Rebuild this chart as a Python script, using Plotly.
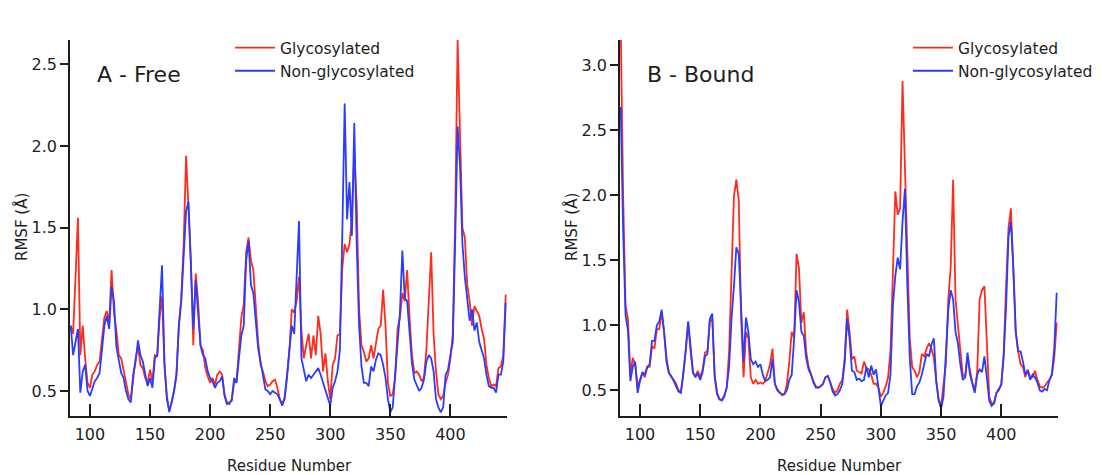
import plotly.graph_objects as go

# ---------------- data ----------------
residues = list(range(84, 447, 2))

free_glyco = [
    0.90, 0.85, 1.20, 1.56, 0.72, 0.90, 0.70, 0.55, 0.52, 0.60,
    0.62, 0.66, 0.68, 0.82, 0.95, 0.99, 0.92, 1.24, 0.98, 0.87,
    0.72, 0.70, 0.62, 0.55, 0.48, 0.45, 0.58, 0.70, 0.77, 0.66,
    0.64, 0.58, 0.55, 0.63, 0.56, 0.72, 0.71, 0.95, 1.08, 0.66,
    0.45, 0.38, 0.43, 0.50, 0.60, 0.90, 1.07, 1.40, 1.94, 1.66,
    1.30, 0.78, 1.22, 1.05, 0.78, 0.75, 0.64, 0.59, 0.55, 0.58,
    0.54, 0.60, 0.62, 0.60, 0.48, 0.43, 0.42, 0.45, 0.55, 0.56,
    0.75, 0.95, 1.03, 1.35, 1.44, 1.30, 1.24, 1.00, 0.80, 0.66,
    0.62, 0.56, 0.53, 0.54, 0.56, 0.57, 0.52, 0.45, 0.42, 0.45,
    0.58, 0.75, 1.00, 0.98, 1.05, 1.20, 0.87, 0.70, 0.78, 0.85,
    0.70, 0.84, 0.72, 0.96, 0.85, 0.62, 0.73, 0.56, 0.45, 0.66,
    0.70, 0.84, 0.85, 1.25, 1.40, 1.35, 1.40, 1.55, 1.95, 1.65,
    1.00, 0.78, 0.74, 0.68, 0.70, 0.78, 0.70, 0.78, 0.88, 0.90,
    1.12, 0.90, 0.55, 0.47, 0.48, 0.58, 0.88, 0.95, 1.10, 1.05,
    1.24, 0.95, 0.72, 0.61, 0.62, 0.60, 0.56, 0.58, 0.75, 1.05,
    1.35, 0.85, 0.62, 0.48, 0.45, 0.47, 0.55, 0.60, 0.70, 0.85,
    1.57, 2.65, 2.00, 1.50, 1.44, 1.15, 1.05, 0.90, 1.02, 0.99,
    0.96, 0.88, 0.82, 0.66, 0.58, 0.53, 0.54, 0.53, 0.64, 0.65,
    0.72, 1.09,
]

free_nonglyco = [
    0.90, 0.72, 0.80, 0.88, 0.49, 0.62, 0.66, 0.50, 0.47, 0.52,
    0.56, 0.58, 0.61, 0.75, 0.90, 0.96, 0.88, 1.14, 1.05, 0.77,
    0.68, 0.61, 0.58, 0.50, 0.45, 0.43, 0.60, 0.68, 0.81, 0.72,
    0.68, 0.60, 0.53, 0.58, 0.52, 0.70, 0.72, 1.00, 1.27, 0.67,
    0.47, 0.37, 0.43, 0.50, 0.60, 0.90, 1.05, 1.35, 1.60, 1.66,
    1.30, 0.88, 1.18, 1.00, 0.78, 0.72, 0.70, 0.62, 0.58, 0.56,
    0.52, 0.55, 0.56, 0.59, 0.47, 0.42, 0.43, 0.44, 0.58, 0.55,
    0.70, 0.84, 0.90, 1.30, 1.42, 1.15, 1.10, 0.92, 0.76, 0.68,
    0.58, 0.51, 0.50, 0.48, 0.50, 0.49, 0.48, 0.45, 0.41, 0.46,
    0.58, 0.75, 0.90, 0.85, 1.20, 1.54, 0.70, 0.62, 0.56, 0.60,
    0.58, 0.60, 0.62, 0.64, 0.60, 0.55, 0.50, 0.45, 0.41, 0.52,
    0.56, 0.62, 0.75, 1.45, 2.26, 1.55, 1.78, 1.45, 2.14, 1.40,
    0.90, 0.65, 0.55, 0.55, 0.53, 0.65, 0.62, 0.69, 0.73, 0.72,
    0.66, 0.58, 0.45, 0.37, 0.40, 0.60, 0.80, 0.98, 1.36, 1.07,
    1.05, 0.85, 0.67, 0.57, 0.53, 0.50, 0.52, 0.57, 0.68, 0.72,
    0.70, 0.62, 0.45, 0.40, 0.37, 0.40, 0.60, 0.63, 0.72, 0.80,
    1.43, 2.12, 1.88, 1.40, 1.20, 1.08, 0.93, 1.00, 0.87, 0.92,
    0.80, 0.75, 0.70, 0.60, 0.53, 0.52, 0.52, 0.49, 0.60, 0.60,
    0.68, 1.04,
]

bound_glyco = [
    3.30, 2.00, 1.15, 1.05, 0.62, 0.75, 0.70, 0.53, 0.58, 0.63,
    0.60, 0.68, 0.68, 0.84, 0.82, 0.97, 0.97, 1.10, 0.95, 0.75,
    0.64, 0.60, 0.58, 0.55, 0.50, 0.49, 0.62, 0.80, 1.02, 0.80,
    0.63, 0.61, 0.65, 0.60, 0.66, 0.79, 0.80, 1.03, 1.05, 0.62,
    0.48, 0.43, 0.43, 0.46, 0.52, 0.80, 1.50, 1.99, 2.12, 1.96,
    1.05, 0.60, 0.95, 0.90, 0.60, 0.55, 0.58, 0.55, 0.56, 0.55,
    0.57, 0.63, 0.70, 0.82, 0.55, 0.51, 0.48, 0.46, 0.47, 0.55,
    0.72, 0.95, 0.90, 1.55, 1.44, 1.02, 1.10, 0.80, 0.68, 0.62,
    0.57, 0.53, 0.52, 0.53, 0.55, 0.60, 0.61, 0.56, 0.51, 0.48,
    0.50, 0.55, 0.58, 0.75, 1.12, 0.95, 0.74, 0.76, 0.65, 0.64,
    0.63, 0.72, 0.67, 0.66, 0.62, 0.55, 0.55, 0.52, 0.45, 0.48,
    0.53, 0.60, 0.80, 1.40, 2.03, 1.85, 1.90, 2.88, 2.25, 1.60,
    0.90, 0.68, 0.65, 0.60, 0.64, 0.78, 0.76, 0.82, 0.86, 0.82,
    0.75, 0.57, 0.43, 0.38, 0.54, 0.70, 1.20, 1.45, 2.12, 1.20,
    1.00, 0.80, 0.62, 0.60, 0.76, 0.65, 0.56, 0.50, 0.64, 1.20,
    1.27, 1.30, 0.80, 0.45, 0.40, 0.40, 0.48, 0.50, 0.55, 0.78,
    1.30, 1.75, 1.90, 1.45, 0.95, 0.80, 0.70, 0.68, 0.60, 0.66,
    0.60, 0.60, 0.65, 0.58, 0.53, 0.52, 0.53, 0.56, 0.58, 0.62,
    0.75, 1.02,
]

bound_nonglyco = [
    2.68, 1.73, 1.08, 0.96, 0.57, 0.68, 0.72, 0.48, 0.57, 0.64,
    0.62, 0.68, 0.70, 0.88, 0.88, 1.00, 1.03, 1.12, 0.95, 0.72,
    0.63, 0.61, 0.57, 0.53, 0.49, 0.48, 0.63, 0.80, 1.03, 0.82,
    0.64, 0.60, 0.63, 0.58, 0.64, 0.76, 0.78, 1.05, 1.09, 0.60,
    0.47, 0.43, 0.42, 0.45, 0.52, 0.68, 1.05, 1.30, 1.60, 1.55,
    1.15, 0.72, 1.06, 0.95, 0.74, 0.70, 0.72, 0.68, 0.70, 0.62,
    0.57, 0.58, 0.60, 0.74, 0.55, 0.50, 0.48, 0.47, 0.47, 0.50,
    0.58, 0.62, 0.90, 1.27, 1.18, 0.95, 0.92, 0.75, 0.66, 0.62,
    0.56, 0.52, 0.52, 0.53, 0.55, 0.60, 0.61, 0.56, 0.49, 0.46,
    0.47, 0.50, 0.55, 0.72, 1.05, 0.90, 0.65, 0.64, 0.58, 0.59,
    0.57, 0.58, 0.68, 0.60, 0.69, 0.62, 0.66, 0.50, 0.38, 0.42,
    0.46, 0.48, 0.62, 1.15, 1.38, 1.52, 1.43, 1.80, 2.05, 1.30,
    0.75, 0.47, 0.47, 0.53, 0.56, 0.62, 0.70, 0.78, 0.76, 0.85,
    0.90, 0.57, 0.42, 0.36, 0.45, 0.75, 1.12, 1.27, 1.20, 0.95,
    0.86, 0.70, 0.58, 0.60, 0.79, 0.62, 0.55, 0.48, 0.62, 0.66,
    0.64, 0.76, 0.60, 0.42, 0.38, 0.40, 0.48, 0.51, 0.54, 0.76,
    1.15, 1.68, 1.80, 1.45, 0.95, 0.80, 0.80, 0.72, 0.62, 0.65,
    0.58, 0.62, 0.60, 0.56, 0.50, 0.49, 0.51, 0.50, 0.58, 0.62,
    0.82, 1.25,
]

x_ticks = [100, 150, 200, 250, 300, 350, 400]
y_ticks_free = [0.5, 1.0, 1.5, 2.0, 2.5]
y_ticks_bound = [0.5, 1.0, 1.5, 2.0, 2.5, 3.0]

series_names = ["Glycosylated", "Non-glycosylated"]
panel_labels = ["A - Free", "B - Bound"]

# ---------------- style ----------------
RED = "#ff2b1c"
BLUE = "#2a3cff"
INK = "#1e1e1e"
FONT = "DejaVu Sans"
W, H = 1102, 475
ML, MR, MT, MB = 70, 44, 40, 59
PW = W - ML - MR
PH = H - MT - MB


def px_x(p):
    return (p - ML) / PW


def px_y(p):
    return (H - MB - p) / PH


fig = go.Figure()

fig.add_trace(go.Scatter(x=residues, y=free_glyco, mode="lines", name=series_names[0],
                         line=dict(color=RED, width=1.8), xaxis="x", yaxis="y", legend="legend"))
fig.add_trace(go.Scatter(x=residues, y=free_nonglyco, mode="lines", name=series_names[1],
                         line=dict(color=BLUE, width=1.8), xaxis="x", yaxis="y", legend="legend"))
fig.add_trace(go.Scatter(x=residues, y=bound_glyco, mode="lines", name=series_names[0],
                         line=dict(color=RED, width=1.8), xaxis="x2", yaxis="y2", legend="legend2"))
fig.add_trace(go.Scatter(x=residues, y=bound_nonglyco, mode="lines", name=series_names[1],
                         line=dict(color=BLUE, width=1.8), xaxis="x2", yaxis="y2", legend="legend2"))

xcommon = dict(range=[83.4, 447.1], showline=True, linecolor=INK, linewidth=1.5,
               ticks="inside", ticklen=12, tickwidth=1.5, tickcolor=INK,
               tickvals=x_ticks, showgrid=False, zeroline=False,
               tickfont=dict(family=FONT, size=16, color=INK), ticklabelstandoff=3)
ycommon = dict(showline=True, linecolor=INK, linewidth=1.5,
               ticks="outside", ticklen=8, tickwidth=1.5, tickcolor=INK,
               showgrid=False, zeroline=False, tickformat=".1f",
               tickfont=dict(family=FONT, size=16, color=INK))

left_end = px_x(507)
right_start = px_x(620)

fig.update_layout(
    width=W, height=H,
    margin=dict(l=ML, r=MR, t=MT, b=MB, autoexpand=False),
    paper_bgcolor="white", plot_bgcolor="white",
    font=dict(family=FONT, color=INK),
    xaxis=dict(domain=[0, left_end], anchor="y", **xcommon),
    yaxis=dict(domain=[0, 1], anchor="x", range=[0.347, 2.649], tickvals=y_ticks_free, **ycommon),
    xaxis2=dict(domain=[right_start, 1], anchor="y2", **xcommon),
    yaxis2=dict(domain=[0, 1], anchor="x2", range=[0.302, 3.195], tickvals=y_ticks_bound, **ycommon),
    legend=dict(x=px_x(230), y=px_y(31), xanchor="left", yanchor="top",
                bgcolor="rgba(0,0,0,0)", font=dict(family=FONT, size=15.5, color=INK),
                itemwidth=40, tracegroupgap=0),
    legend2=dict(x=px_x(908), y=px_y(31), xanchor="left", yanchor="top",
                 bgcolor="rgba(0,0,0,0)", font=dict(family=FONT, size=15.5, color=INK),
                 itemwidth=40, tracegroupgap=0),
    showlegend=True,
)

ann = []
ann.append(dict(text=panel_labels[0], x=px_x(139), y=px_y(74), xref="paper", yref="paper",
                showarrow=False, xanchor="center", yanchor="middle",
                font=dict(family=FONT, size=22, color=INK)))
ann.append(dict(text=panel_labels[1], x=px_x(700), y=px_y(74), xref="paper", yref="paper",
                showarrow=False, xanchor="center", yanchor="middle",
                font=dict(family=FONT, size=22, color=INK)))
for cx in (21, 571):
    ann.append(dict(text="RMSF (Å)", x=px_x(cx), y=px_y(227), xref="paper", yref="paper",
                    showarrow=False, xanchor="center", yanchor="middle", textangle=-90,
                    font=dict(family=FONT, size=15, color=INK)))
for cx in (289, 839):
    ann.append(dict(text="Residue Number", x=px_x(cx), y=px_y(466), xref="paper", yref="paper",
                    showarrow=False, xanchor="center", yanchor="middle",
                    font=dict(family=FONT, size=15, color=INK)))
fig.update_layout(annotations=ann)

fig.write_html("out.html")
